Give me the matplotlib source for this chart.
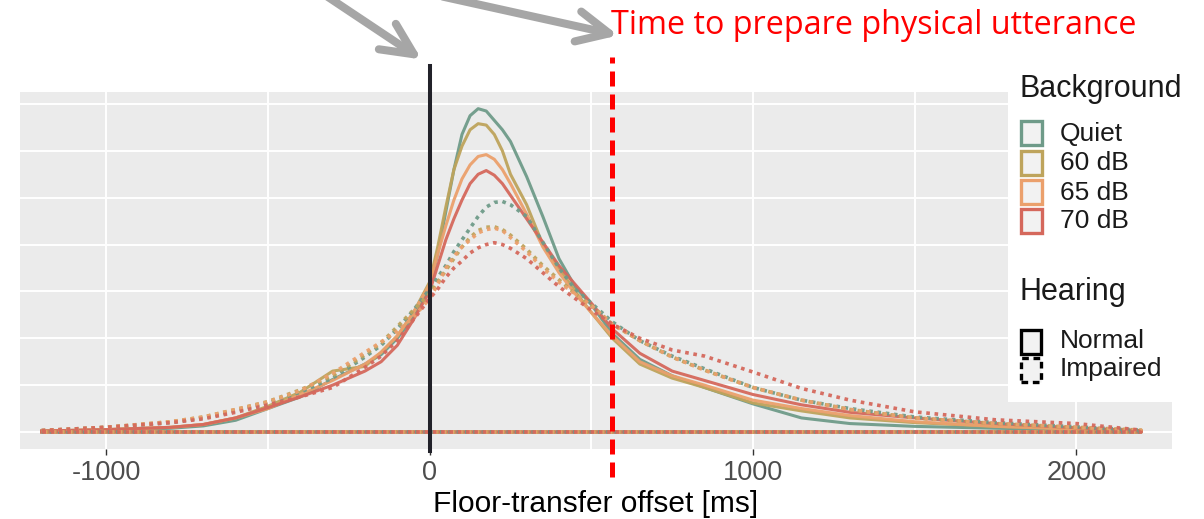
import numpy as np
import matplotlib
matplotlib.use('Agg')
import matplotlib.pyplot as plt
from matplotlib.patches import Rectangle, FancyArrowPatch, ArrowStyle

plt.rcParams['font.family'] = ['Liberation Sans', 'DejaVu Sans']

#%% Data (y in arbitrary density units, one unit per gridline)

offset_ms = [-1200, -1000, -800, -700, -600, -500, -400, -300, -200, -150, -100, -50,
             0, 25, 50, 75, 100, 125, 150, 175, 200, 225, 250, 300, 350, 400, 450, 500,
             565, 650, 750, 850, 1000, 1150, 1300, 1500, 1750, 2000, 2200]

backgrounds = ['Quiet', '60 dB', '65 dB', '70 dB']
hearing = ['Normal', 'Impaired']

quiet_normal = [0.02, 0.04, 0.08, 0.13, 0.25, 0.50, 0.75, 1.12, 1.45, 1.65, 2.00, 2.45,
                3.10, 3.80, 4.70, 5.60, 6.35, 6.75, 6.90, 6.85, 6.65, 6.45, 6.20, 5.45, 4.60, 3.70, 3.10, 2.72,
                2.10, 1.55, 1.20, 0.95, 0.60, 0.30, 0.18, 0.12, 0.08, 0.05, 0.02]
db60_normal = [0.02, 0.05, 0.10, 0.16, 0.30, 0.55, 0.85, 1.30, 1.40, 1.70, 2.05, 2.55,
               3.20, 3.95, 4.80, 5.60, 6.10, 6.45, 6.58, 6.55, 6.35, 6.00, 5.50, 4.85, 4.00, 3.50, 3.00, 2.55,
               2.00, 1.45, 1.15, 0.95, 0.62, 0.45, 0.30, 0.20, 0.12, 0.07, 0.03]
db65_normal = [0.02, 0.05, 0.10, 0.16, 0.30, 0.50, 0.80, 1.10, 1.45, 1.70, 2.05, 2.55,
               3.15, 3.80, 4.40, 4.95, 5.40, 5.70, 5.88, 5.92, 5.82, 5.60, 5.30, 4.65, 3.95, 3.40, 2.95, 2.55,
               2.05, 1.50, 1.20, 1.00, 0.68, 0.50, 0.35, 0.22, 0.12, 0.06, 0.03]
db70_normal = [0.02, 0.05, 0.10, 0.16, 0.30, 0.52, 0.75, 1.00, 1.30, 1.50, 1.85, 2.40,
               3.00, 3.55, 4.10, 4.55, 4.95, 5.30, 5.50, 5.58, 5.48, 5.30, 5.05, 4.55, 4.05, 3.55, 3.15, 2.75,
               2.20, 1.68, 1.30, 1.10, 0.80, 0.58, 0.42, 0.30, 0.18, 0.09, 0.03]

quiet_impaired = [0.03, 0.10, 0.20, 0.30, 0.45, 0.62, 0.85, 1.15, 1.60, 1.85, 2.20, 2.60,
                  3.05, 3.30, 3.55, 3.85, 4.10, 4.35, 4.60, 4.80, 4.90, 4.92, 4.85, 4.60, 4.05, 3.50, 3.05, 2.75,
                  2.35, 1.95, 1.62, 1.35, 0.95, 0.68, 0.50, 0.32, 0.20, 0.11, 0.04]
db60_impaired = [0.03, 0.10, 0.22, 0.32, 0.48, 0.65, 0.90, 1.20, 1.65, 1.90, 2.25, 2.60,
                 2.95, 3.20, 3.45, 3.70, 3.95, 4.15, 4.30, 4.37, 4.38, 4.32, 4.20, 3.90, 3.55, 3.25, 2.95, 2.70,
                 2.30, 1.95, 1.60, 1.32, 0.95, 0.68, 0.48, 0.30, 0.18, 0.10, 0.04]
db65_impaired = [0.03, 0.10, 0.22, 0.32, 0.48, 0.64, 0.88, 1.25, 1.70, 1.92, 2.15, 2.45,
                 2.85, 3.15, 3.50, 3.75, 3.95, 4.10, 4.25, 4.32, 4.35, 4.30, 4.15, 3.85, 3.50, 3.20, 2.95, 2.70,
                 2.30, 1.95, 1.60, 1.32, 0.95, 0.68, 0.48, 0.30, 0.18, 0.10, 0.04]
db70_impaired = [0.03, 0.10, 0.20, 0.28, 0.42, 0.58, 0.75, 0.95, 1.38, 1.62, 1.95, 2.40,
                 2.85, 3.05, 3.30, 3.50, 3.65, 3.82, 3.93, 4.00, 4.04, 4.00, 3.92, 3.70, 3.40, 3.10, 2.85, 2.60,
                 2.30, 2.00, 1.75, 1.62, 1.28, 0.93, 0.68, 0.43, 0.26, 0.18, 0.04]

xticks = [-1000, 0, 1000, 2000]
xminor = [-500, 500, 1500]
prep_time = 565   # red dashed line
annotation = 'Time to prepare physical utterance'

colors = ['#6f9b89', '#bea45c', '#eba06c', '#d5685c']

curves = {('Quiet', 'Normal'): quiet_normal, ('60 dB', 'Normal'): db60_normal,
          ('65 dB', 'Normal'): db65_normal, ('70 dB', 'Normal'): db70_normal,
          ('Quiet', 'Impaired'): quiet_impaired, ('60 dB', 'Impaired'): db60_impaired,
          ('65 dB', 'Impaired'): db65_impaired, ('70 dB', 'Impaired'): db70_impaired}

#%% Figure

W, H = 1204, 519
fig = plt.figure(figsize=(W/100, H/100), dpi=100)

def fx(px):
    return px / W

def fy(py):
    return 1 - py / H

ax = fig.add_axes([fx(20), fy(449), fx(1172) - fx(20), fy(92) - fy(449)])
ax.set_facecolor('#ebebeb')
for s in ax.spines.values():
    s.set_visible(False)

ax.set_xlim(-1267, 2296)
ax.set_ylim(-0.363, 7.256)

for g in range(0, 8):
    ax.axhline(g, color='white', lw=1.4, zorder=0.5)
for g in xticks + xminor:
    ax.axvline(g, color='white', lw=1.4, zorder=0.5)

x = np.array(offset_ms)
styles = {'Normal': dict(ls='-', lw=2.2),
          'Impaired': dict(ls=(0, (1.0, 1.3)), lw=2.6)}
for h in hearing:
    for b, c in zip(backgrounds, colors):
        y = np.array(curves[(b, h)])
        xs = np.concatenate([x, [x[-1], x[0]]])
        ys = np.concatenate([y, [0, 0]])
        ax.plot(xs, ys, color=c, alpha=0.95, zorder=2, solid_joinstyle='round', **styles[h])

# reference lines
ax.axvline(0, ymin=-0.006, ymax=1.073, color='#22222a', lw=2.9, clip_on=False, zorder=4)
ax.axvline(prep_time, ymin=-0.078, ymax=1.098, color='#ff0000', lw=3.6,
           ls=(0, (3, 1.6)), clip_on=False, zorder=4)

ax.set_yticks([])
ax.set_xticks(xticks)
ax.set_xticklabels([str(t) for t in xticks], fontsize=19.5, color='#4d4d4d')
ax.tick_params(axis='x', length=4, width=1, color='#333333', pad=4)
ax.set_xlabel('Floor-transfer offset [ms]', fontsize=21.5, labelpad=3)

fig.text(fx(611), fy(34), annotation, color='#ff0000', fontsize=23.3,
         family=['Open Sans', 'DejaVu Sans'], va='baseline', ha='left')

# grey arrows
for start, tip in [((325, -5), (424, 61)), ((440, -4), (621, 36))]:
    arr = FancyArrowPatch((fx(start[0]), fy(start[1])), (fx(tip[0]), fy(tip[1])),
                          transform=fig.transFigure,
                          arrowstyle=ArrowStyle('->', head_length=23, head_width=11),
                          mutation_scale=1, color='#a6a6a6', lw=5.8,
                          capstyle='round', joinstyle='round')
    fig.add_artist(arr)

#%% Legend (drawn by hand, overlapping the panel like the original)

fig.add_artist(Rectangle((fx(1008), fy(402)), fx(1204) - fx(1008), fy(88) - fy(402),
                         transform=fig.transFigure, facecolor='white', edgecolor='none', zorder=5))

fig.text(fx(1019), fy(97.5), 'Background', fontsize=22, color='#1a1a1a', va='baseline', zorder=6)
key_tops = [121, 150.5, 179.5, 208.5]
for b, c, top in zip(backgrounds, colors, key_tops):
    fig.add_artist(Rectangle((fx(1021), fy(top + 24)), fx(21), 24 / H,
                             transform=fig.transFigure, facecolor='#f2f2f2', edgecolor=c,
                             lw=2.4, zorder=6))
    fig.text(fx(1060), fy(top + 20), b, fontsize=19, color='#1a1a1a', va='baseline', zorder=6)

fig.text(fx(1019), fy(300), 'Hearing', fontsize=22, color='#1a1a1a', va='baseline', zorder=6)
for h, top, ls in zip(hearing, [330, 358], ['-', (0, (2, 1.4))]):
    fig.add_artist(Rectangle((fx(1021), fy(top + 24)), fx(20), 24 / H,
                             transform=fig.transFigure, facecolor='#f2f2f2', edgecolor='black',
                             lw=2.4, ls=ls, zorder=6))
    fig.text(fx(1060), fy(top + 18), h, fontsize=19, color='#1a1a1a', va='baseline', zorder=6)

fig.savefig('out.png', dpi=100)
